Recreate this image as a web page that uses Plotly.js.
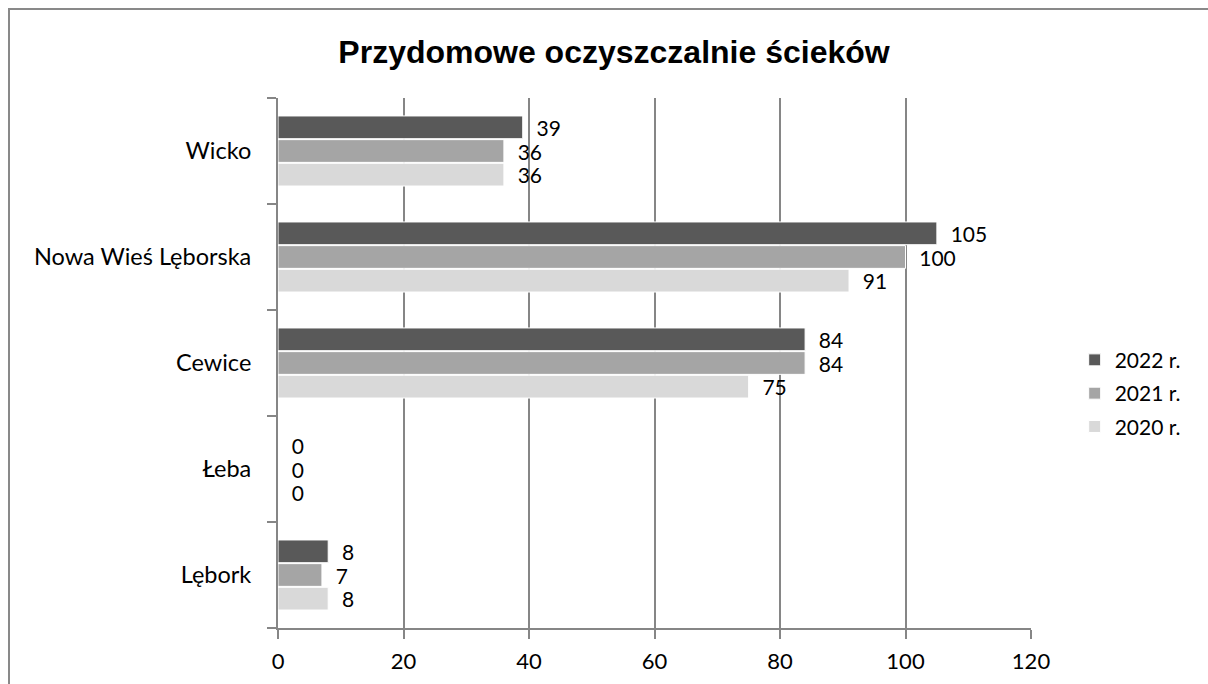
<!DOCTYPE html>
<html>
<head>
<meta charset="utf-8">
<script src="https://cdn.plot.ly/plotly-3.0.1.min.js"></script>
<style>html,body{margin:0;padding:0;background:#fff;}#chart{width:1208px;height:684px;}</style>
</head>
<body>
<div id="chart"></div>
<script>
const categories = ["Lębork", "Łeba", "Cewice", "Nowa Wieś Lęborska", "Wicko"];
const values2020 = [8, 0, 75, 91, 36];
const values2021 = [7, 0, 84, 100, 36];
const values2022 = [8, 0, 84, 105, 39];
const seriesNames = ["2020 r.", "2021 r.", "2022 r."];
const seriesColors = ["#d9d9d9", "#a5a5a5", "#595959"];
const xTicks = [0, 20, 40, 60, 80, 100, 120];

const FONT = "Lato, 'Open Sans', sans-serif";
const FS = 22;
const seriesValues = [values2020, values2021, values2022];

const traces = seriesValues.map((vals, i) => ({
  type: "bar",
  orientation: "h",
  name: seriesNames[i],
  legendgroup: "g" + i,
  legendrank: 3 - i,
  y: categories,
  x: vals,
  marker: { color: seriesColors[i], line: { color: "#ffffff", width: 1 } },
  text: vals.map(String),
  texttemplate: "\u00a0\u00a0%{x}",
  textposition: "outside",
  constraintext: "none",
  cliponaxis: false,
  textfont: { family: FONT, size: 21, color: "#000000" },
  hoverinfo: "x+name"
}));

const layout = {
  width: 1208,
  height: 684,
  paper_bgcolor: "#ffffff",
  plot_bgcolor: "#ffffff",
  margin: { l: 278, r: 177, t: 98, b: 56, pad: 0 },
  font: { family: FONT, size: FS, color: "#000000" },
  title: {
    text: "Przydomowe oczyszczalnie ścieków",
    font: { family: "'Liberation Sans', Arial, sans-serif", size: 32, color: "#000000", weight: "bold" },
    x: 614 / 1208,
    xref: "container",
    xanchor: "center",
    y: 1 - 52 / 684,
    yref: "container",
    yanchor: "middle"
  },
  barmode: "group",
  bargap: 0.33,
  bargroupgap: 0.04,
  showlegend: true,
  legend: {
    x: 1.058,
    xanchor: "left",
    y: 0.443,
    yanchor: "middle",
    traceorder: "grouped",
    tracegroupgap: 3,
    font: { family: FONT, size: 21, color: "#000000" },
    bgcolor: "rgba(0,0,0,0)",
    itemclick: false
  },
  xaxis: {
    range: [0, 120],
    tickvals: xTicks,
    ticktext: xTicks.map(String),
    showgrid: true,
    gridcolor: "#868686",
    gridwidth: 2,
    zeroline: false,
    showline: true,
    linecolor: "#868686",
    linewidth: 2,
    ticks: "outside",
    ticklen: 9,
    tickwidth: 2,
    tickcolor: "#868686",
    ticklabelstandoff: 4,
    tickfont: { family: FONT, size: FS, color: "#000000" },
    fixedrange: true
  },
  yaxis: {
    type: "category",
    categoryorder: "array",
    categoryarray: categories,
    showgrid: false,
    zeroline: false,
    showline: true,
    linecolor: "#868686",
    linewidth: 2,
    ticks: "outside",
    tickson: "boundaries",
    ticklen: 9,
    tickwidth: 2,
    tickcolor: "#868686",
    ticklabelstandoff: 20,
    tickfont: { family: FONT, size: 23.5, color: "#000000" },
    fixedrange: true
  },
  shapes: [{
    type: "rect",
    xref: "paper",
    yref: "paper",
    x0: (9 - 278) / 753,
    x1: 1.4,
    y0: -0.3,
    y1: (628 - 9) / 530,
    line: { color: "#898989", width: 2 },
    fillcolor: "rgba(0,0,0,0)",
    layer: "below"
  }]
};

Plotly.newPlot("chart", traces, layout, { displayModeBar: false, staticPlot: true });
</script>
</body>
</html>
